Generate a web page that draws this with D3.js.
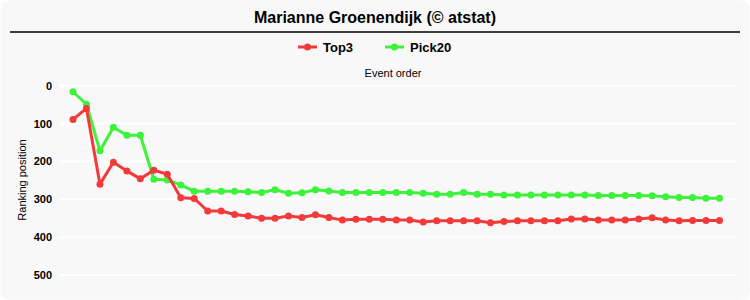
<!DOCTYPE html>
<html>
<head>
<meta charset="utf-8">
<title>Marianne Groenendijk</title>
<script src="https://cdn.jsdelivr.net/npm/d3@7"></script>
<style>
html, body { margin: 0; padding: 0; background: #ffffff; }
body { font-family: "Liberation Sans", Arial, sans-serif; }
#chart { width: 750px; height: 300px; }
</style>
</head>
<body>
<div id="chart"></div>
<script>
// 表示するデータ
const title = "Marianne Groenendijk (© atstat)";
const seriesNames = ["Top3", "Pick20"];
const seriesColors = ["#f23a3a", "#3df23a"];
const yTicks = [0, 100, 200, 300, 400, 500];

const top3 = [89, 60, 260, 202, 225, 246, 223, 234, 296, 298,
    331, 331, 340, 344, 350, 350, 344, 348, 341, 348,
    355, 353, 353, 353, 355, 355, 360, 357, 357, 357,
    357, 362, 359, 357, 357, 357, 357, 352, 352, 355,
    355, 355, 352, 349, 355, 357, 356, 356, 356];
const pick20 = [16, 49, 172, 110, 131, 131, 247, 249, 262, 279,
    279, 279, 279, 280, 282, 275, 284, 283, 275, 278,
    282, 282, 282, 282, 282, 282, 284, 287, 287, 282,
    287, 287, 289, 289, 289, 289, 289, 289, 289, 290,
    290, 290, 290, 291, 293, 295, 295, 297, 297];

const W = 750, H = 300;
const svg = d3.select("#chart").append("svg").attr("width", W).attr("height", H);

// 背景
svg.append("rect").attr("x", 0.5).attr("y", 0.5).attr("width", W - 1).attr("height", H - 1)
    .attr("rx", 8).attr("fill", "#f8f8f8");

// タイトル
svg.append("text").attr("x", 375).attr("y", 23).attr("text-anchor", "middle")
    .attr("font-size", 16).attr("font-weight", "bold").attr("fill", "#000").text(title);
svg.append("line").attr("x1", 10).attr("x2", 740).attr("y1", 32).attr("y2", 32)
    .attr("stroke", "#000").attr("stroke-width", 1.5);

// スケール
const x = d3.scaleLinear().domain([0, top3.length - 1]).range([73, 719.5]);
const y = d3.scaleLinear().domain([0, 500]).range([85.7, 275]);

// グリッド
const grid = svg.append("g");
grid.selectAll("line").data(yTicks).enter().append("line")
    .attr("x1", 60).attr("x2", 737)
    .attr("y1", d => y(d)).attr("y2", d => y(d))
    .attr("stroke", "#ffffff").attr("stroke-width", 2);

// Y軸
const yAxis = svg.append("g").attr("transform", "translate(52,0)")
    .call(d3.axisLeft(y).tickValues(yTicks).tickSize(0).tickPadding(0));
yAxis.select(".domain").remove();
yAxis.selectAll("text").attr("font-size", 11).attr("font-weight", "bold")
    .attr("font-family", "'Liberation Sans', Arial, sans-serif").attr("fill", "#000");

svg.append("text").attr("transform", "translate(26,180) rotate(-90)")
    .attr("text-anchor", "middle").attr("font-size", 11).attr("fill", "#000")
    .text("Ranking position");

svg.append("text").attr("x", 393).attr("y", 77).attr("text-anchor", "middle")
    .attr("font-size", 11).attr("fill", "#000").text("Event order");

// 線
const line = d3.line().x((d, i) => x(i)).y(d => y(d));
const series = [pick20, top3];
const colors = [seriesColors[1], seriesColors[0]];
series.forEach((s, k) => {
    svg.append("path").datum(s).attr("d", line).attr("fill", "none")
        .attr("stroke", colors[k]).attr("stroke-width", 3).attr("stroke-linejoin", "round");
    svg.append("g").selectAll("circle").data(s).enter().append("circle")
        .attr("cx", (d, i) => x(i)).attr("cy", d => y(d)).attr("r", 3.5)
        .attr("fill", colors[k]);
});

// 凡例
const legendX = [298, 385];
seriesNames.forEach((name, k) => {
    const g = svg.append("g").attr("transform", "translate(" + legendX[k] + ",47)");
    g.append("line").attr("x1", 0).attr("x2", 19).attr("y1", 0).attr("y2", 0)
        .attr("stroke", seriesColors[k]).attr("stroke-width", 3);
    g.append("circle").attr("cx", 9.5).attr("cy", 0).attr("r", 3.5).attr("fill", seriesColors[k]);
    g.append("text").attr("x", 25).attr("y", 5).attr("font-size", 13).attr("font-weight", "bold")
        .attr("fill", "#000").text(name);
});
</script>
</body>
</html>
